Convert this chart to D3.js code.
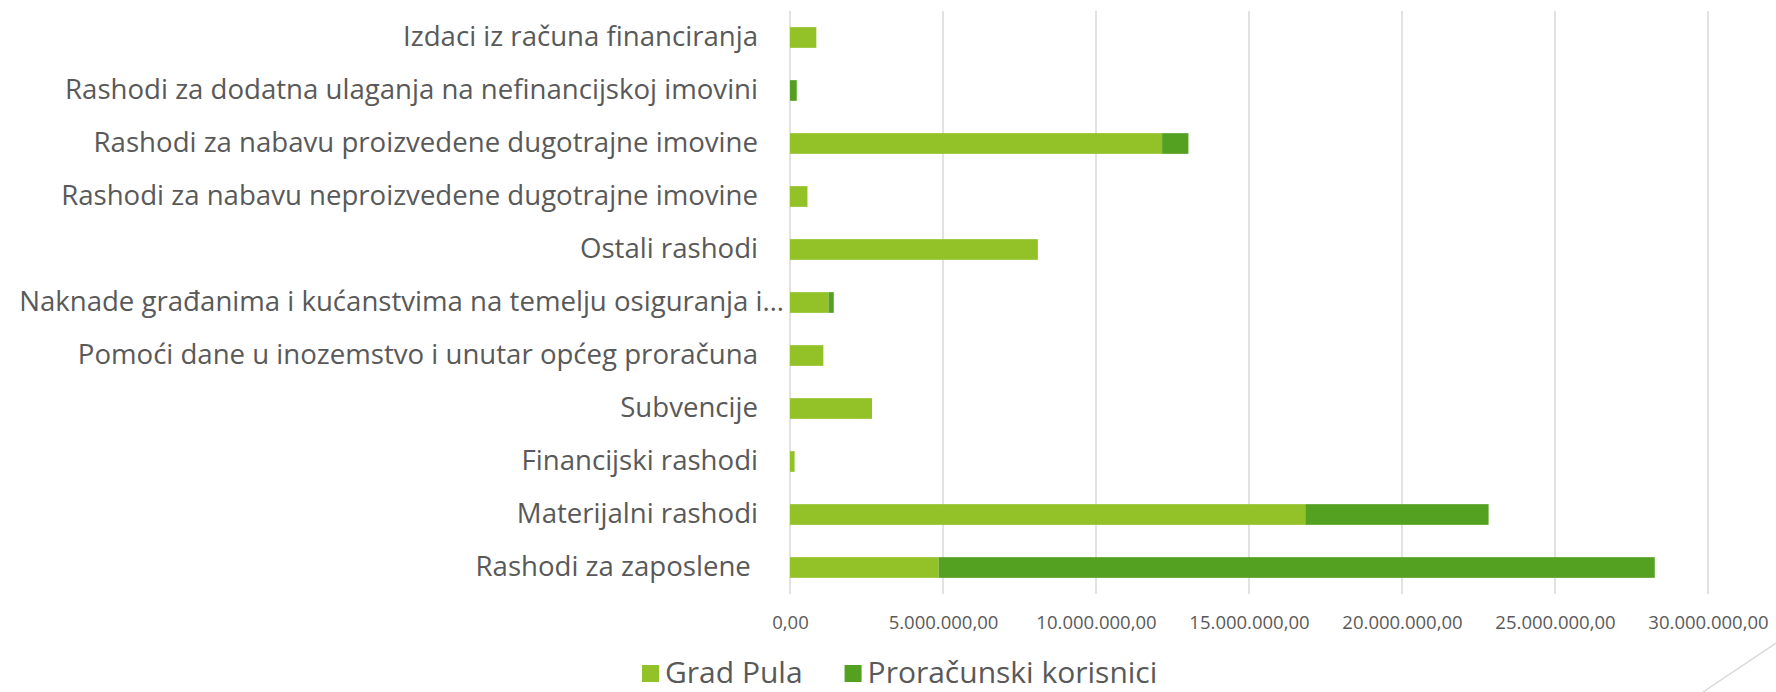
<!DOCTYPE html>
<html lang="hr">
<head>
  <meta charset="UTF-8">
  <title>Rashodi - Grad Pula</title>
  <script src="https://d3js.org/d3.v7.min.js"></script>
  <style>
    html, body { margin: 0; padding: 0; background: #fff; }
    svg { display: block; }
  </style>
</head>
<body>
<script>
  // kategorije odozgo prema dolje
  const categories = [
    'Izdaci iz računa financiranja',
    'Rashodi za dodatna ulaganja na nefinancijskoj imovini',
    'Rashodi za nabavu proizvedene dugotrajne imovine',
    'Rashodi za nabavu neproizvedene dugotrajne imovine',
    'Ostali rashodi',
    'Naknade građanima i kućanstvima na temelju osiguranja i…',
    'Pomoći dane u inozemstvo i unutar općeg proračuna',
    'Subvencije',
    'Financijski rashodi',
    'Materijalni rashodi',
    'Rashodi za zaposlene '
  ];
  const gradPula = [860000, 0, 12160000, 570000, 8100000, 1260000, 1090000, 2680000, 150000, 16840000, 4860000];
  const proracunski = [0, 220000, 860000, 0, 0, 170000, 0, 0, 0, 5990000, 23400000];
  const seriesNames = ['Grad Pula', 'Proračunski korisnici'];
  const xTicks = [0, 5000000, 10000000, 15000000, 20000000, 25000000, 30000000];

  const width = 1776;
  const height = 692;
  const margin = { top: 11, right: 68, bottom: 98, left: 790 };
  const colors = ['#92c128', '#54a021'];
  const textColor = '#595959';

  const rows = categories.map((c, i) => ({ cat: c, gp: gradPula[i], pk: proracunski[i] }));

  const svg = d3.select('body').append('svg')
    .attr('width', width)
    .attr('height', height)
    .attr('viewBox', [0, 0, width, height]);

  const x = d3.scaleLinear()
    .domain([0, 30000000])
    .range([margin.left, width - margin.right]);

  const y = d3.scaleBand()
    .domain(categories)
    .range([margin.top, height - margin.bottom])
    .paddingInner(0.61)
    .paddingOuter(0.305);

  // format 5.000.000,00
  const hr = d3.formatLocale({ decimal: ',', thousands: '.', grouping: [3], currency: ['', ' kn'] });
  const fmt = hr.format(',.2f');

  // mreža
  svg.append('g')
    .selectAll('line')
    .data(xTicks)
    .join('line')
    .attr('x1', d => x(d)).attr('x2', d => x(d))
    .attr('y1', margin.top).attr('y2', height - margin.bottom)
    .attr('stroke', '#d9d9d9')
    .attr('stroke-width', 1.5);

  // x os
  const xAxis = g => g
    .attr('transform', `translate(0,${ height - margin.bottom })`)
    .call(d3.axisBottom(x).tickValues(xTicks).tickFormat(fmt).tickSize(0).tickPadding(22))
    .call(g => g.select('.domain').remove())
    .call(g => g.selectAll('text')
      .attr('fill', textColor)
      .style('font-family', '"Open Sans", sans-serif')
      .style('font-size', '18.5px'));
  svg.append('g').call(xAxis);

  // y os
  const yAxis = g => g
    .attr('transform', `translate(${ margin.left },0)`)
    .call(d3.axisLeft(y).tickSize(0).tickPadding(32))
    .call(g => g.select('.domain').remove())
    .call(g => g.selectAll('text')
      .attr('fill', textColor)
      .style('white-space', 'pre')
      .style('font-family', '"Open Sans", sans-serif')
      .style('font-size', '27.6px')
      .attr('dx', d => d.endsWith('…') ? 26 : 0));
  svg.append('g').call(yAxis);

  // stupci
  const stack = d3.stack().keys(['gp', 'pk'])(rows);
  svg.append('g')
    .selectAll('g')
    .data(stack)
    .join('g')
    .attr('fill', (d, i) => colors[i])
    .selectAll('rect')
    .data(d => d)
    .join('rect')
    .attr('x', d => x(d[0]))
    .attr('y', d => y(d.data.cat))
    .attr('width', d => x(d[1]) - x(d[0]))
    .attr('height', y.bandwidth());

  // legenda
  const legend = svg.append('g')
    .attr('transform', `translate(642,${ height - 20 })`);
  let lx = 0;
  seriesNames.forEach((name, i) => {
    const item = legend.append('g').attr('transform', `translate(${ lx },0)`);
    item.append('rect')
      .attr('x', 0).attr('y', -7)
      .attr('width', 17).attr('height', 17)
      .attr('fill', colors[i]);
    const t = item.append('text')
      .attr('x', 23)
      .attr('dy', '0.35em')
      .attr('fill', textColor)
      .style('font-family', '"Open Sans", sans-serif')
      .style('font-size', '30px')
      .text(name);
    lx += 23 + t.node().getComputedTextLength() + 42;
  });

  // ukrasna linija u kutu
  svg.append('line')
    .attr('x1', 1776).attr('y1', 643)
    .attr('x2', 1703).attr('y2', 692)
    .attr('stroke', '#d9d9d9')
    .attr('stroke-width', 1.5);
</script>
</body>
</html>
